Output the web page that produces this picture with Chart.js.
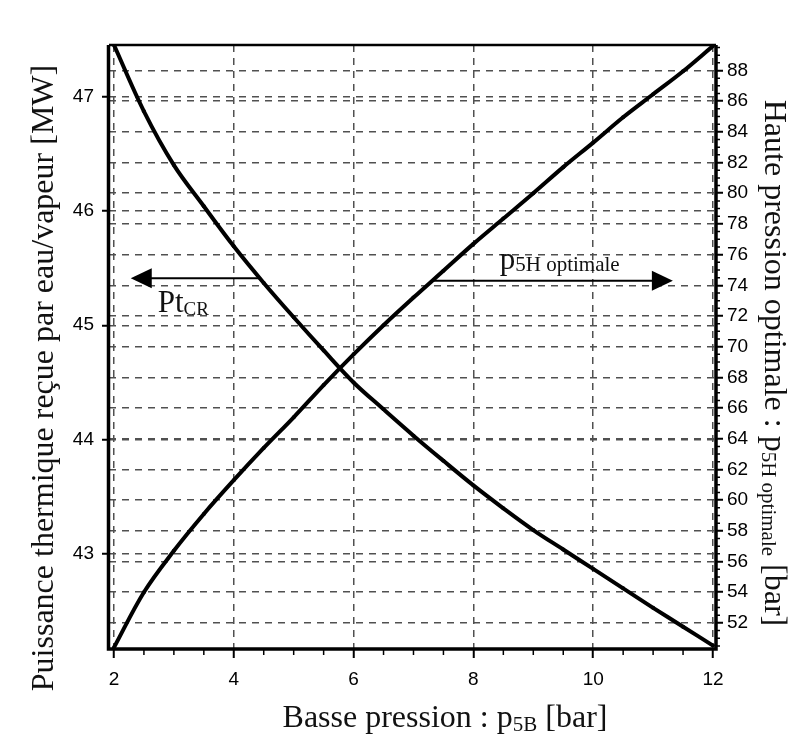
<!DOCTYPE html>
<html>
<head>
<meta charset="utf-8">
<script src="https://cdn.jsdelivr.net/npm/chart.js@4.4.1/dist/chart.umd.min.js"></script>
<style>
  html, body { margin: 0; padding: 0; background: #fff; }
  #wrap { width: 802px; height: 744px; }
</style>
</head>
<body>
<div id="wrap"><canvas id="chart" width="802" height="744"></canvas></div>
<script>
'use strict'

// basse pression p5B [bar]
const xValues = [2, 2.5, 3, 3.5, 4, 4.5, 5, 5.5, 6, 6.5, 7, 7.5, 8, 8.5, 9, 9.5, 10, 10.5, 11, 11.5, 12]
// puissance thermique Pt_CR [MW] (left axis)
const ptCR = [47.45, 46.87, 46.40, 46.04, 45.69, 45.37, 45.07, 44.78, 44.50, 44.265, 44.035, 43.815, 43.60, 43.40, 43.21, 43.04, 42.87, 42.70, 42.53, 42.365, 42.20]
// haute pression optimale p5H [bar] (right axis)
const p5H = [50.4, 54.0, 56.7, 59.1, 61.3, 63.4, 65.4, 67.5, 69.5, 71.4, 73.2, 74.95, 76.7, 78.35, 80.0, 81.7, 83.3, 84.95, 86.45, 87.95, 89.6]

const xTicks = [2, 4, 6, 8, 10, 12]
const leftTicks = [43, 44, 45, 46, 47]
const rightTicks = [52, 54, 56, 58, 60, 62, 64, 66, 68, 70, 72, 74, 76, 78, 80, 82, 84, 86, 88]

// arrows + labels, in data units
const ptArrow = { y: 45.41, from: 4.45, to: 2.28 }
const p5hArrow = { y: 74.3, from: 7.3, to: 11.33 }
const ptLabel = { x: 2.73, y: 45.12 }
const p5hLabel = { x: 8.44, y: 75.09 }

const serif = '"Liberation Serif", "Times New Roman", serif'
const tickFont = { family: '"Liberation Sans", Arial, sans-serif', size: 19 }
const gridColor = '#505050'

function drawRich(ctx, parts, x, y, angle, align) {
  ctx.save()
  ctx.translate(x, y)
  ctx.rotate(angle)
  ctx.textAlign = 'left'
  ctx.textBaseline = 'alphabetic'
  ctx.fillStyle = '#111'
  let total = 0
  parts.forEach((p) => {
    ctx.font = p.size + 'px ' + serif
    p.w = ctx.measureText(p.text).width
    total += p.w
  })
  let cx = align === 'left' ? 0 : -total / 2
  parts.forEach((p) => {
    ctx.font = p.size + 'px ' + serif
    ctx.fillText(p.text, cx, p.dy || 0)
    cx += p.w
  })
  ctx.restore()
}

function arrow(ctx, x1, x2, y) {
  const dir = Math.sign(x2 - x1)
  ctx.save()
  ctx.strokeStyle = '#000'
  ctx.fillStyle = '#000'
  ctx.lineWidth = 2
  ctx.beginPath()
  ctx.moveTo(x1, y)
  ctx.lineTo(x2 - dir * 18, y)
  ctx.stroke()
  ctx.beginPath()
  ctx.moveTo(x2, y)
  ctx.lineTo(x2 - dir * 21, y - 10)
  ctx.lineTo(x2 - dir * 21, y + 10)
  ctx.closePath()
  ctx.fill()
  ctx.restore()
}

const decorPlugin = {
  id: 'decor',
  afterDraw(chart) {
    const { ctx, chartArea: a, scales } = chart
    const sx = scales.x
    const sy = scales.y
    const sy2 = scales.y2

    // minor ticks
    ctx.save()
    ctx.strokeStyle = '#000'
    ctx.lineWidth = 1.5
    ctx.beginPath()
    for (let v = 2.5; v < 12; v += 0.5) {
      if (xTicks.includes(v)) continue
      const px = sx.getPixelForValue(v)
      ctx.moveTo(px, a.bottom)
      ctx.lineTo(px, a.bottom + 6)
    }
    for (let v = 50.5; v < 89.7; v += 0.5) {
      if (rightTicks.includes(v)) continue
      const py = sy2.getPixelForValue(v)
      ctx.moveTo(a.right, py)
      ctx.lineTo(a.right + 4, py)
    }
    ctx.stroke()

    // frame
    ctx.lineWidth = 2.5
    ctx.beginPath()
    ctx.moveTo(a.left, a.top)
    ctx.lineTo(a.right, a.top)
    ctx.stroke()
    ctx.lineWidth = 3.5
    ctx.beginPath()
    ctx.moveTo(a.left - 0.5, a.top)
    ctx.lineTo(a.left - 0.5, a.bottom)
    ctx.lineTo(a.right, a.bottom)
    ctx.lineTo(a.right, a.top)
    ctx.stroke()
    ctx.restore()

    // arrows
    arrow(ctx, sx.getPixelForValue(ptArrow.from), sx.getPixelForValue(ptArrow.to), sy.getPixelForValue(ptArrow.y))
    arrow(ctx, sx.getPixelForValue(p5hArrow.from), sx.getPixelForValue(p5hArrow.to), sy2.getPixelForValue(p5hArrow.y))

    drawRich(ctx, [{ text: 'Pt', size: 31 }, { text: 'CR', size: 19, dy: 3 }],
      sx.getPixelForValue(ptLabel.x), sy.getPixelForValue(ptLabel.y), 0, 'left')
    drawRich(ctx, [{ text: 'p', size: 31 }, { text: '5H optimale', size: 21, dy: 2 }],
      sx.getPixelForValue(p5hLabel.x), sy2.getPixelForValue(p5hLabel.y), 0, 'left')

    // axis titles
    drawRich(ctx, [{ text: 'Puissance thermique reçue par eau/vapeur [MW]', size: 32 }],
      53, 378, -Math.PI / 2)
    drawRich(ctx, [{ text: 'Basse pression : p', size: 32 }, { text: '5B', size: 21, dy: 4 }, { text: ' [bar]', size: 32 }],
      445, 727, 0)
    drawRich(ctx, [{ text: 'Haute pression optimale : p', size: 32 }, { text: '5H optimale', size: 21, dy: 3 }, { text: ' [bar]', size: 32 }],
      765, 363, Math.PI / 2)
  }
}

const axisGrid = {
  color: gridColor,
  lineWidth: 1.5,
  tickColor: '#000',
  tickWidth: 2
}

new Chart(document.getElementById('chart'), {
  type: 'line',
  data: {
    datasets: [
      {
        label: 'Pt CR',
        data: xValues.map((x, i) => ({ x, y: ptCR[i] })),
        yAxisID: 'y'
      },
      {
        label: 'p5H optimale',
        data: xValues.map((x, i) => ({ x, y: p5H[i] })),
        yAxisID: 'y2'
      }
    ]
  },
  options: {
    responsive: false,
    animation: false,
    devicePixelRatio: 1,
    layout: { padding: { top: 45 } },
    elements: {
      line: { borderColor: '#000', borderWidth: 4, tension: 0.35 },
      point: { radius: 2, backgroundColor: '#000', borderWidth: 0 }
    },
    plugins: {
      legend: { display: false },
      tooltip: { enabled: false }
    },
    scales: {
      x: {
        type: 'linear',
        position: 'bottom',
        min: 1.917,
        max: 12.05,
        afterBuildTicks: (s) => { s.ticks = xTicks.map((v) => ({ value: v })) },
        afterFit: (s) => { s.height = 95 },
        ticks: { font: tickFont, color: '#000', padding: 10 },
        grid: { ...axisGrid, tickLength: 9 },
        border: { display: false, dash: [7, 6] }
      },
      y: {
        type: 'linear',
        position: 'left',
        min: 42.17,
        max: 47.45,
        afterBuildTicks: (s) => { s.ticks = leftTicks.map((v) => ({ value: v })) },
        afterFit: (s) => { s.width = 109 },
        ticks: { font: tickFont, color: '#000', padding: 8 },
        grid: { ...axisGrid, tickLength: 7 },
        border: { display: false, dash: [7, 6] }
      },
      y2: {
        type: 'linear',
        position: 'right',
        min: 50.3,
        max: 89.66,
        afterBuildTicks: (s) => { s.ticks = rightTicks.map((v) => ({ value: v })) },
        afterFit: (s) => { s.width = 86 },
        ticks: { font: tickFont, color: '#000', padding: 4 },
        grid: { ...axisGrid, tickLength: 7 },
        border: { display: false, dash: [7, 6] }
      }
    }
  },
  plugins: [decorPlugin]
})
</script>
</body>
</html>
